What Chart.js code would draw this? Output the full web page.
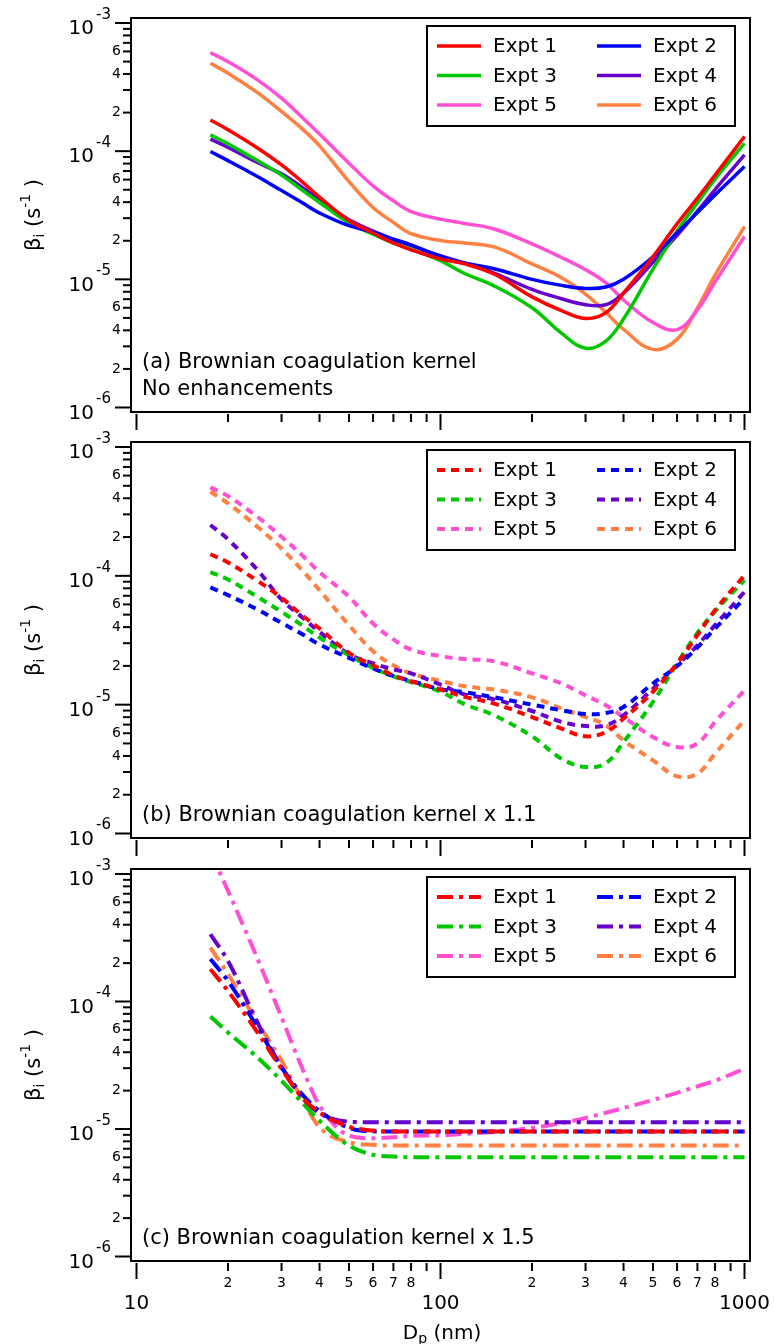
<!DOCTYPE html>
<html>
<head>
<meta charset="utf-8">
<script src="https://cdn.jsdelivr.net/npm/chart.js@4.4.1/dist/chart.umd.min.js"></script>
<style>
  html, body { margin: 0; padding: 0; background: #fff; }
  #wrap { position: relative; width: 774px; height: 1344px; }
  canvas { position: absolute; left: 0; }
</style>
</head>
<body>
<div id="wrap">
  <canvas id="panelA" width="774" height="440" style="top:0px"></canvas>
  <canvas id="panelB" width="774" height="440" style="top:425px"></canvas>
  <canvas id="panelC" width="774" height="494" style="top:850px"></canvas>
</div>
<script>
// particle diameter grid (nm)
const dp = [17.5, 20, 25, 30, 35, 40, 50, 60, 70, 80, 100, 120, 150, 200, 250, 300, 350, 400, 500, 600, 700, 800, 1000];

const exptLabels = ['Expt 1', 'Expt 2', 'Expt 3', 'Expt 4', 'Expt 5', 'Expt 6'];

// (a) no enhancements
const a1 = [1.75e-4, 1.47e-4, 1.06e-4, 7.82e-5, 5.79e-5, 4.38e-5, 2.88e-5, 2.30e-5, 1.92e-5, 1.70e-5, 1.44e-5, 1.32e-5, 1.10e-5, 7.3e-6, 5.7e-6, 4.95e-6, 5.5e-6, 7.82e-6, 1.50e-5, 2.71e-5, 4.30e-5, 6.50e-5, 1.30e-4];
const a2 = [9.93e-5, 8.44e-5, 6.34e-5, 4.93e-5, 3.98e-5, 3.29e-5, 2.62e-5, 2.34e-5, 2.06e-5, 1.86e-5, 1.51e-5, 1.34e-5, 1.21e-5, 1.0e-5, 8.97e-6, 8.5e-6, 8.71e-6, 1.0e-5, 1.50e-5, 2.31e-5, 3.32e-5, 4.56e-5, 7.59e-5];
const a3 = [1.34e-4, 1.14e-4, 8.44e-5, 6.50e-5, 4.99e-5, 3.98e-5, 2.75e-5, 2.25e-5, 1.92e-5, 1.72e-5, 1.40e-5, 1.11e-5, 8.9e-6, 6.0e-6, 3.8e-6, 2.9e-6, 3.3e-6, 4.9e-6, 1.2e-5, 2.37e-5, 3.95e-5, 6.05e-5, 1.15e-4];
const a4 = [1.24e-4, 1.07e-4, 8.15e-5, 6.65e-5, 5.24e-5, 4.17e-5, 2.91e-5, 2.38e-5, 2.04e-5, 1.83e-5, 1.53e-5, 1.34e-5, 1.12e-5, 8.35e-6, 7.06e-6, 6.34e-6, 6.34e-6, 7.82e-6, 1.36e-5, 2.20e-5, 3.40e-5, 5.02e-5, 9.36e-5];
const a5 = [5.87e-4, 4.99e-4, 3.60e-4, 2.59e-4, 1.84e-4, 1.36e-4, 8.06e-5, 5.36e-5, 4.10e-5, 3.38e-5, 2.95e-5, 2.73e-5, 2.47e-5, 1.89e-5, 1.48e-5, 1.19e-5, 9.4e-6, 6.9e-6, 4.60e-6, 4.05e-6, 5.77e-6, 9.53e-6, 2.16e-5];
const a6 = [4.85e-4, 4.06e-4, 2.86e-4, 2.04e-4, 1.50e-4, 1.10e-4, 5.79e-5, 3.63e-5, 2.78e-5, 2.27e-5, 2.01e-5, 1.92e-5, 1.79e-5, 1.32e-5, 1.03e-5, 7.68e-6, 5.52e-6, 4.07e-6, 2.84e-6, 3.40e-6, 6.0e-6, 1.08e-5, 2.58e-5];

// (b) kernel x 1.1
const b1 = [1.47e-4, 1.27e-4, 9.14e-5, 6.75e-5, 4.95e-5, 3.90e-5, 2.52e-5, 2.02e-5, 1.69e-5, 1.52e-5, 1.31e-5, 1.15e-5, 1.02e-5, 8.02e-6, 6.52e-6, 5.68e-6, 6.14e-6, 7.80e-6, 1.26e-5, 2.09e-5, 3.46e-5, 5.41e-5, 1.01e-4];
const b2 = [8.13e-5, 7.08e-5, 5.48e-5, 4.31e-5, 3.54e-5, 2.93e-5, 2.31e-5, 1.91e-5, 1.67e-5, 1.53e-5, 1.32e-5, 1.25e-5, 1.14e-5, 1.00e-5, 9.05e-6, 8.47e-6, 8.62e-6, 9.59e-6, 1.46e-5, 1.99e-5, 2.78e-5, 3.90e-5, 6.67e-5];
const b3 = [1.07e-4, 9.38e-5, 6.87e-5, 5.25e-5, 4.14e-5, 3.32e-5, 2.42e-5, 1.93e-5, 1.66e-5, 1.50e-5, 1.26e-5, 1.01e-5, 8.27e-6, 5.68e-6, 3.81e-6, 3.28e-6, 3.52e-6, 5.13e-6, 1.05e-5, 2.09e-5, 3.6e-5, 5.3e-5, 9.26e-5];
const b4 = [2.48e-4, 1.92e-4, 1.11e-4, 6.56e-5, 4.80e-5, 3.67e-5, 2.47e-5, 2.09e-5, 1.88e-5, 1.75e-5, 1.43e-5, 1.20e-5, 1.10e-5, 8.93e-6, 7.35e-6, 6.83e-6, 6.92e-6, 8.27e-6, 1.33e-5, 2.02e-5, 2.89e-5, 4.14e-5, 7.52e-5];
const b5 = [4.86e-4, 4.16e-4, 2.87e-4, 2.01e-4, 1.45e-4, 1.07e-4, 6.87e-5, 4.27e-5, 3.21e-5, 2.68e-5, 2.38e-5, 2.26e-5, 2.17e-5, 1.75e-5, 1.46e-5, 1.18e-5, 9.89e-6, 8.02e-6, 5.61e-6, 4.69e-6, 4.99e-6, 7.35e-6, 1.29e-5];
const b6 = [4.50e-4, 3.65e-4, 2.40e-4, 1.63e-4, 1.11e-4, 7.74e-5, 4.14e-5, 2.60e-5, 2.02e-5, 1.75e-5, 1.53e-5, 1.39e-5, 1.31e-5, 1.14e-5, 9.33e-6, 8.02e-6, 6.92e-6, 5.28e-6, 3.70e-6, 2.78e-6, 2.92e-6, 4.17e-6, 7.57e-6];

// (c) kernel x 1.5
const c1 = [1.79e-4, 1.21e-4, 5.72e-5, 2.96e-5, 1.77e-5, 1.35e-5, 1.04e-5, 9.72e-6, 9.54e-6, 9.54e-6, 9.54e-6, 9.54e-6, 9.54e-6, 9.54e-6, 9.54e-6, 9.54e-6, 9.54e-6, 9.54e-6, 9.54e-6, 9.54e-6, 9.54e-6, 9.54e-6, 9.54e-6];
const c2 = [2.15e-4, 1.45e-4, 6.26e-5, 3.04e-5, 1.88e-5, 1.38e-5, 1.02e-5, 9.59e-6, 9.54e-6, 9.54e-6, 9.54e-6, 9.54e-6, 9.54e-6, 9.54e-6, 9.54e-6, 9.54e-6, 9.54e-6, 9.54e-6, 9.54e-6, 9.54e-6, 9.54e-6, 9.54e-6, 9.54e-6];
const c3 = [7.63e-5, 5.72e-5, 3.64e-5, 2.39e-5, 1.62e-5, 1.16e-5, 7.41e-6, 6.27e-6, 6.08e-6, 6.0e-6, 6.0e-6, 6.0e-6, 6.0e-6, 6.0e-6, 6.0e-6, 6.0e-6, 6.0e-6, 6.0e-6, 6.0e-6, 6.0e-6, 6.0e-6, 6.0e-6, 6.0e-6];
const c4 = [3.37e-4, 2.08e-4, 6.85e-5, 3.04e-5, 1.77e-5, 1.33e-5, 1.14e-5, 1.13e-5, 1.13e-5, 1.13e-5, 1.13e-5, 1.13e-5, 1.13e-5, 1.13e-5, 1.13e-5, 1.13e-5, 1.13e-5, 1.13e-5, 1.13e-5, 1.13e-5, 1.13e-5, 1.13e-5, 1.13e-5];
const c5 = [1.5e-3, 7.36e-4, 2.17e-4, 7.50e-5, 3.04e-5, 1.53e-5, 8.88e-6, 8.45e-6, 8.61e-6, 8.83e-6, 8.93e-6, 9.16e-6, 9.49e-6, 1.02e-5, 1.11e-5, 1.22e-5, 1.34e-5, 1.46e-5, 1.69e-5, 1.92e-5, 2.16e-5, 2.39e-5, 2.97e-5];
const c6 = [2.65e-4, 1.64e-4, 6.85e-5, 3.43e-5, 1.72e-5, 1.03e-5, 7.87e-6, 7.51e-6, 7.41e-6, 7.41e-6, 7.41e-6, 7.41e-6, 7.41e-6, 7.41e-6, 7.41e-6, 7.41e-6, 7.41e-6, 7.41e-6, 7.41e-6, 7.41e-6, 7.41e-6, 7.41e-6, 7.41e-6];

const colors = ['#ff0000', '#0000ff', '#00c800', '#6600cc', '#ff4fd2', '#ff8040'];
const FONT = '"DejaVu Sans", Verdana, sans-serif';

// tick values (log decades with minor ticks)
const yTicks = [];
for (let e = -6; e <= -3; e++) {
  yTicks.push({ v: Math.pow(10, e), major: true, exp: e });
  if (e < -3) {
    for (let m = 2; m <= 9; m++) {
      yTicks.push({ v: m * Math.pow(10, e), major: false, text: (m === 2 || m === 4 || m === 6) ? String(m) : '' });
    }
  }
}
const xTicks = [];
for (let e = 1; e <= 3; e++) {
  xTicks.push({ v: Math.pow(10, e), major: true, text: String(Math.pow(10, e)) });
  if (e < 3) {
    for (let m = 2; m <= 9; m++) {
      xTicks.push({ v: m * Math.pow(10, e), major: false, text: m <= 8 ? String(m) : '' });
    }
  }
}

function hline(ctx, x1, y1, x2, y2) {
  ctx.beginPath();
  ctx.moveTo(x1, y1);
  ctx.lineTo(x2, y2);
  ctx.stroke();
}

const panelDecor = {
  id: 'panelDecor',
  afterDatasetsDraw(chart, args, o) {
    const ctx = chart.ctx;
    const a = chart.chartArea;
    const xs = chart.scales.x, ys = chart.scales.y;
    ctx.save();
    ctx.strokeStyle = '#000';
    ctx.fillStyle = '#000';

    // frame
    ctx.lineWidth = 2;
    ctx.strokeRect(a.left, a.top, a.right - a.left, a.bottom - a.top);

    // y ticks + labels
    ctx.lineWidth = 2;
    yTicks.forEach(t => {
      const py = ys.getPixelForValue(t.v);
      hline(ctx, a.left - (t.major ? 16 : 8), py, a.left, py);
      ctx.textAlign = 'right';
      ctx.textBaseline = 'middle';
      if (t.major) {
        ctx.font = '15px ' + FONT;
        const sup = String(t.exp);
        const sw = ctx.measureText(sup).width;
        ctx.fillText(sup, a.left - 20, py - 8);
        ctx.font = '20px ' + FONT;
        ctx.fillText('10', a.left - 22 - sw, py + 6);
      } else if (t.text) {
        ctx.font = '14px ' + FONT;
        ctx.fillText(t.text, a.left - 10, py);
      }
    });

    // x ticks (+ labels on the bottom panel)
    xTicks.forEach(t => {
      const px = xs.getPixelForValue(t.v);
      hline(ctx, px, a.bottom + 2, px, a.bottom + (t.major ? 18 : 10));
      if (o.xLabels && t.text) {
        ctx.textAlign = 'center';
        ctx.textBaseline = 'middle';
        if (t.major) {
          ctx.font = '20px ' + FONT;
          ctx.fillText(t.text, px, a.bottom + 43);
        } else {
          ctx.font = '14px ' + FONT;
          ctx.fillText(t.text, px, a.bottom + 22);
        }
      }
    });

    // x title  D_p (nm)
    if (o.xLabels) {
      ctx.textAlign = 'left';
      ctx.textBaseline = 'alphabetic';
      ctx.font = '20px ' + FONT;
      const wD = ctx.measureText('D').width;
      const wR = ctx.measureText(' (nm)').width;
      ctx.font = '14px ' + FONT;
      const wp = ctx.measureText('p').width;
      const x0 = 442 - (wD + wp + wR) / 2;
      const base = a.bottom + 78;
      ctx.font = '20px ' + FONT;
      ctx.fillText('D', x0, base);
      ctx.font = '14px ' + FONT;
      ctx.fillText('p', x0 + wD, base + 4);
      ctx.font = '20px ' + FONT;
      ctx.fillText(' (nm)', x0 + wD + wp, base);
    }

    // y title  beta_i (s^-1)
    ctx.save();
    ctx.translate(33, (a.top + a.bottom) / 2);
    ctx.rotate(-Math.PI / 2);
    ctx.textAlign = 'left';
    ctx.textBaseline = 'alphabetic';
    const parts = [
      { s: 'β', f: 21, dy: 0 },
      { s: 'i', f: 14, dy: 4 },
      { s: ' (s', f: 21, dy: 0 },
      { s: '-1', f: 14, dy: -10 },
      { s: ' )', f: 21, dy: 0 }
    ];
    let tw = 0;
    parts.forEach(p => { ctx.font = p.f + 'px ' + FONT; p.w = ctx.measureText(p.s).width; tw += p.w; });
    let cx = -tw / 2;
    parts.forEach(p => {
      ctx.font = p.f + 'px ' + FONT;
      ctx.fillText(p.s, cx, 7 + p.dy);
      cx += p.w;
    });
    ctx.restore();

    // panel caption
    ctx.textAlign = 'left';
    ctx.textBaseline = 'middle';
    ctx.font = '21px ' + FONT;
    o.caption.forEach((line, i) => {
      const yy = a.bottom - 22 - (o.caption.length - 1 - i) * 27;
      ctx.fillText(line, a.left + 11, yy);
    });

    // legend
    const lw = 308, lh = 100;
    const lx = a.right - 15 - lw, ly = a.top + 8;
    ctx.fillStyle = '#fff';
    ctx.fillRect(lx, ly, lw, lh);
    ctx.lineWidth = 2;
    ctx.strokeStyle = '#000';
    ctx.strokeRect(lx, ly, lw, lh);
    chart.data.datasets.forEach((ds, i) => {
      const col = i % 2, row = Math.floor(i / 2);
      const x0 = lx + (col ? 170 : 10);
      const yy = ly + 20 + row * 29.5;
      ctx.save();
      ctx.strokeStyle = ds.borderColor;
      ctx.lineWidth = ds.borderWidth;
      ctx.setLineDash(ds.borderDash || []);
      hline(ctx, x0, yy, x0 + 44, yy);
      ctx.restore();
      ctx.fillStyle = '#000';
      ctx.font = '20px ' + FONT;
      ctx.textAlign = 'left';
      ctx.textBaseline = 'middle';
      ctx.fillText(ds.label, x0 + 56, yy + 1);
    });

    ctx.restore();
  }
};

function makeSeries(vals, i, dash, width, mono) {
  const s = {
    label: exptLabels[i],
    data: vals.map((v, k) => ({ x: dp[k], y: v })),
    borderColor: colors[i],
    backgroundColor: colors[i],
    borderWidth: width,
    borderDash: dash,
    pointRadius: 0,
    fill: false,
    tension: 0.4
  };
  if (mono) s.cubicInterpolationMode = 'monotone';
  return s;
}

function makePanel(id, sets, dash, width, mono, pad, caption, xLabels) {
  const h = document.getElementById(id).height;
  const boxH = h - pad.top - pad.bottom;
  const ppd = (boxH - 9.5) / 3;                          // pixels per decade on y
  const ppx = (774 - pad.left - pad.right - 11) / 2;     // pixels per decade on x
  new Chart(document.getElementById(id), {
    type: 'line',
    data: { datasets: sets.map((s, i) => makeSeries(s, i, dash, width, mono)) },
    options: {
      responsive: false,
      animation: false,
      devicePixelRatio: 1,
      events: [],
      layout: { padding: pad },
      scales: {
        x: {
          type: 'logarithmic',
          display: false,
          min: Math.pow(10, 1 - 5.5 / ppx),
          max: Math.pow(10, 3 + 5.5 / ppx)
        },
        y: {
          type: 'logarithmic',
          display: false,
          min: Math.pow(10, -6 - 4.5 / ppd),
          max: Math.pow(10, -3 + 5 / ppd)
        }
      },
      plugins: {
        legend: { display: false },
        tooltip: { enabled: false },
        panelDecor: { caption: caption, xLabels: xLabels }
      }
    },
    plugins: [panelDecor]
  });
}

makePanel('panelA', [a1, a2, a3, a4, a5, a6], [], 3.5, false,
  { left: 131, right: 24, top: 18, bottom: 28 },
  ['(a) Brownian coagulation kernel', 'No enhancements'], false);

makePanel('panelB', [b1, b2, b3, b4, b5, b6], [8, 6], 4, false,
  { left: 131, right: 24, top: 17, bottom: 27 },
  ['(b) Brownian coagulation kernel x 1.1'], false);

makePanel('panelC', [c1, c2, c3, c4, c5, c6], [16, 6, 4, 6], 4, true,
  { left: 131, right: 24, top: 19, bottom: 83 },
  ['(c) Brownian coagulation kernel x 1.5'], true);
</script>
</body>
</html>
